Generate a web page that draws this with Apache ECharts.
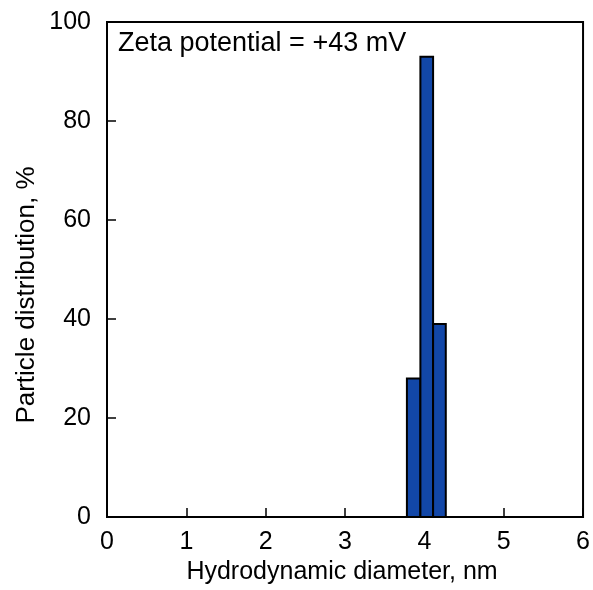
<!DOCTYPE html>
<html>
<head>
<meta charset="utf-8">
<script src="https://cdn.jsdelivr.net/npm/echarts@6/dist/echarts.min.js"></script>
<style>
  html, body { margin: 0; padding: 0; background: #fff; }
  #main { width: 593px; height: 590px; }
</style>
</head>
<body>
<div id="main"></div>
<script>
    // bins (nm) and their percentages
    var binStart = [3.78, 3.95, 4.11];
    var binEnd = [3.95, 4.11, 4.27];
    var values = [28, 93, 39];
    var xTicks = [0, 1, 2, 3, 4, 5, 6];
    var yTicks = [0, 20, 40, 60, 80, 100];
    var note = 'Zeta potential = +43 mV';
    var yTitle = 'Particle distribution, %';

    var font = 'Liberation Sans, Arial, Helvetica, sans-serif';
    var bins = [];
    for (var i = 0; i < values.length; i++) {
        bins.push([binStart[i], binEnd[i], values[i]]);
    }

    var myChart = echarts.init(document.getElementById('main'));
    myChart.setOption({
        animation: false,
        grid: {
            left: 107, right: 8, top: 22, bottom: 73,
            show: true, borderColor: '#000', borderWidth: 2,
            backgroundColor: 'transparent'
        },
        xAxis: {
            type: 'value',
            min: xTicks[0],
            max: xTicks[xTicks.length - 1],
            interval: 1,
            name: 'Hydrodynamic diameter, nm',
            nameLocation: 'middle',
            nameGap: 36,
            nameTextStyle: { fontFamily: font, fontSize: 25, color: '#000', padding: [0, 6, 0, 0] },
            axisLine: { lineStyle: { color: '#000', width: 2 } },
            axisTick: { inside: true, length: 9, lineStyle: { color: '#000', width: 1.5 } },
            axisLabel: { fontFamily: font, fontSize: 25, color: '#000', margin: 13 },
            splitLine: { show: false }
        },
        yAxis: {
            type: 'value',
            min: yTicks[0],
            max: yTicks[yTicks.length - 1],
            interval: 20,
            axisLine: { lineStyle: { color: '#000', width: 2 } },
            axisTick: { inside: true, length: 9, lineStyle: { color: '#000', width: 1.5 } },
            axisLabel: { fontFamily: font, fontSize: 25, color: '#000', margin: 16 },
            splitLine: { show: false }
        },
        graphic: [{
            type: 'text',
            left: 118,
            top: 30,
            style: { text: note, font: '27px ' + font, fill: '#000' }
        }, {
            type: 'text',
            x: 27,
            y: 295,
            rotation: Math.PI / 2,
            style: { text: yTitle, font: '26px ' + font, fill: '#000', align: 'center', verticalAlign: 'middle' }
        }],
        series: [{
            type: 'custom',
            data: bins,
            encode: { x: [0, 1], y: 2 },
            renderItem: function (params, api) {
                var p0 = api.coord([api.value(0), api.value(2)]);
                var p1 = api.coord([api.value(1), 0]);
                return {
                    type: 'rect',
                    shape: { x: p0[0], y: p0[1], width: p1[0] - p0[0], height: p1[1] - p0[1] },
                    style: { fill: '#1247A8', stroke: '#000', lineWidth: 2 }
                };
            }
        }]
    });
</script>
</body>
</html>
